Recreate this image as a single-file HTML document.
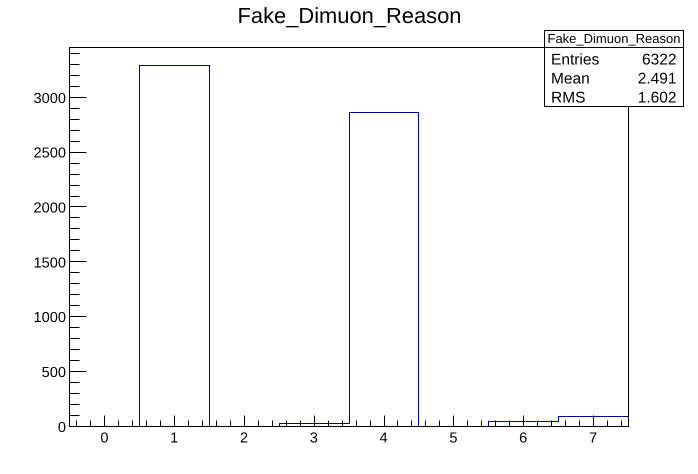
<!DOCTYPE html>
<html>
<head>
<meta charset="utf-8">
<style>
html,body{margin:0;padding:0;background:#fff;}
svg{display:block;font-family:"Liberation Sans",sans-serif;text-rendering:geometricPrecision;}
</style>
</head>
<body>
<svg id="chart" xmlns="http://www.w3.org/2000/svg" width="698" height="474" viewBox="0 0 698 474">
  <rect x="0" y="0" width="698" height="474" fill="#ffffff"/>
  <text x="349.5" y="23" font-size="21.9" text-anchor="middle" fill="#000">Fake_Dimuon_Reason</text>
  <g id="hist"></g>
  <g id="axes"></g>
  <g>
    <rect x="544.5" y="30.5" width="139" height="76" fill="#fff" stroke="#000" stroke-width="1"/>
    <line x1="544.5" y1="47.5" x2="683.5" y2="47.5" stroke="#000" stroke-width="1"/>
    <text x="614" y="43" font-size="13" text-anchor="middle">Fake_Dimuon_Reason</text>
    <text x="551" y="64.5" font-size="15.5">Entries</text>
    <text x="676.5" y="64.5" font-size="15.5" text-anchor="end">6322</text>
    <text x="551" y="83.5" font-size="15.5">Mean</text>
    <text x="676.5" y="83.5" font-size="15.5" text-anchor="end">2.491</text>
    <text x="551" y="102.5" font-size="15.5">RMS</text>
    <text x="676.5" y="102.5" font-size="15.5" text-anchor="end">1.602</text>
  </g>
</svg>
<script>
const binCenters = [0, 1, 2, 3, 4, 5, 6, 7];
const binCounts = [0, 3292, 0, 28, 2863, 0, 48, 91];
const xTickLabels = [0, 1, 2, 3, 4, 5, 6, 7];
const yTickLabels = [0, 500, 1000, 1500, 2000, 2500, 3000];

const NS = 'http://www.w3.org/2000/svg';
const frame = {left: 69.9, right: 628.3, top: 47.3, bottom: 426.3};
const xDomain = [-0.5, 7.5];
const yDomain = [0, 3456];
const binWidth = 1;
const xMinorStep = 0.2;
const yMinorStep = 100;

function xScale(v) {
  return frame.left + (v - xDomain[0]) / (xDomain[1] - xDomain[0]) * (frame.right - frame.left);
}
function yScale(v) {
  return frame.bottom - (v - yDomain[0]) / (yDomain[1] - yDomain[0]) * (frame.bottom - frame.top);
}
function snap(v) {
  return Math.floor(v) + 0.5;
}
function make(tag, attrs, parent) {
  const el = document.createElementNS(NS, tag);
  for (const k in attrs) el.setAttribute(k, attrs[k]);
  parent.appendChild(el);
  return el;
}

const axes = document.getElementById('axes');
const hist = document.getElementById('hist');

// histogram outline
let d = 'M' + snap(xScale(binCenters[0] - binWidth / 2)) + ' ' + snap(yScale(0));
binCenters.forEach(function (c, i) {
  const x0 = snap(xScale(c - binWidth / 2));
  const x1 = snap(xScale(c + binWidth / 2));
  const y = snap(yScale(binCounts[i]));
  d += 'L' + x0 + ' ' + y + 'L' + x1 + ' ' + y;
});
const outline = make('path', {d: d, fill: 'none', stroke: '#000099', 'stroke-width': 1}, hist);



// frame
const box = make('rect', {
  x: snap(frame.left), y: snap(frame.top),
  width: snap(frame.right) - snap(frame.left),
  height: snap(frame.bottom) - snap(frame.top),
  fill: 'none', stroke: '#000', 'stroke-width': 1
}, axes);



// x axis ticks: minor ticks at multiples of the step, major ticks on integers
const xFirst = Math.ceil(xDomain[0] / xMinorStep);
const xLast = Math.floor(xDomain[1] / xMinorStep);
for (let i = xFirst; i <= xLast; i++) {
  const v = i * xMinorStep;
  const isMajor = Math.abs(v - Math.round(v)) < 1e-6;
  const x = snap(xScale(v));
  const t = make('line', {x1: x, x2: x, y1: snap(frame.bottom), y2: snap(frame.bottom) - (isMajor ? 11 : 6), stroke: '#000', 'stroke-width': 1}, axes);
  
  
}
xTickLabels.forEach(function (v) {
  const t = make('text', {x: xScale(v) - 0.4, y: 442.5, 'font-size': 14.6, 'text-anchor': 'middle', fill: '#000'}, axes);
  t.textContent = v;
  
  
});

// y axis ticks
for (let v = yDomain[0]; v <= yDomain[1]; v += yMinorStep) {
  const isMajor = v % 500 === 0;
  const y = snap(yScale(v));
  const t = make('line', {x1: snap(frame.left), x2: snap(frame.left) + (isMajor ? 17 : 10), y1: y, y2: y, stroke: '#000', 'stroke-width': 1}, axes);
  
  
}
yTickLabels.forEach(function (v) {
  const t = make('text', {x: 66, y: yScale(v) + 5.5, 'font-size': 14.6, 'text-anchor': 'end', fill: '#000'}, axes);
  t.textContent = v;
  
  
});
</script>
</body>
</html>
